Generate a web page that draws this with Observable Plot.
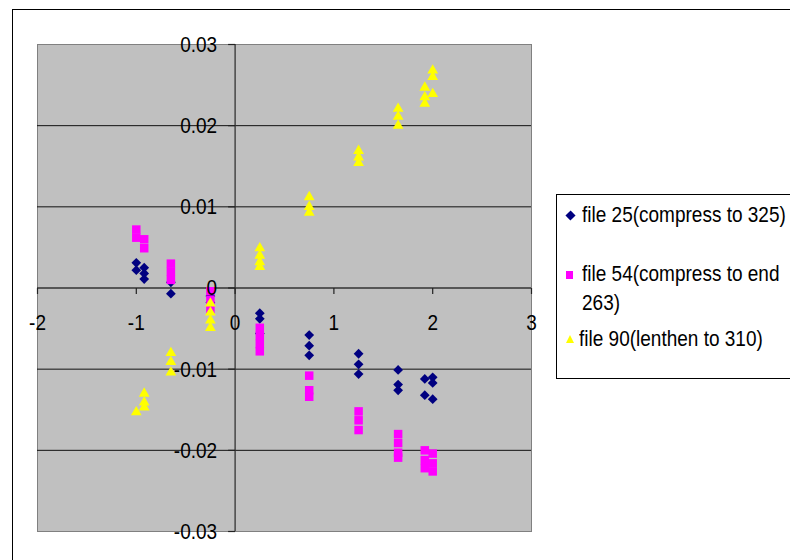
<!DOCTYPE html>
<html>
<head>
<meta charset="utf-8">
<script src="https://cdn.jsdelivr.net/npm/d3@7"></script>
<script src="https://cdn.jsdelivr.net/npm/@observablehq/plot@0.6"></script>
<style>
  body { margin: 0; background: #fff; overflow: hidden; font-family: "Liberation Sans", Arial, sans-serif; }
  #wrap { position: relative; width: 790px; height: 560px; overflow: hidden; }
  #chart { position: absolute; left: 0; top: 0; }
  #border { position: absolute; left: 12px; top: 9px; width: 900px; height: 700px; border-left: 1px solid #000; border-top: 1px solid #000; }
  #legend { position: absolute; left: 556px; top: 194px; width: 300px; height: 183px; border: 1px solid #000; background: #fff; }
  .line { position: absolute; height: 24px; line-height: 24px; font-size: 19px; color: #000; white-space: nowrap; transform: scaleY(1.2); }
  .mk { position: absolute; }
</style>
</head>
<body>
<div id="wrap">
  <div id="border"></div>
  <div id="chart"></div>
  <div id="legend"></div>
</div>
<script>
// ---- data ----
const xGroups = [-1, -0.92, -0.65, -0.25, 0.25, 0.75, 1.25, 1.65, 1.92, 2];
const file25 = [
  [0.0031, 0.0022],
  [0.0025, 0.0018, 0.0011],
  [0.0007, -0.0007],
  [-0.0010, -0.0018],
  [-0.0031, -0.0038, -0.0056],
  [-0.0058, -0.0071, -0.0083],
  [-0.0081, -0.0094, -0.0106],
  [-0.0101, -0.0119, -0.0126],
  [-0.0112, -0.0132],
  [-0.0110, -0.0117, -0.0137]
];
const file54 = [
  [0.0072, 0.0062],
  [0.0060, 0.0049],
  [0.0030, 0.0020, 0.0010],
  [-0.0004, -0.0015, -0.0026],
  [-0.0049, -0.0059, -0.0069, -0.0078],
  [-0.0108, -0.0126, -0.0134],
  [-0.0152, -0.0163, -0.0175],
  [-0.0180, -0.0191, -0.0203, -0.0209],
  [-0.0200, -0.0212, -0.0222],
  [-0.0204, -0.0216, -0.0226]
];
const file90 = [
  [-0.0153],
  [-0.0130, -0.0141, -0.0147],
  [-0.0080, -0.0091, -0.0104],
  [-0.0019, -0.0030, -0.0040, -0.0049],
  [0.0049, 0.0040, 0.0032, 0.0026],
  [0.0112, 0.0100, 0.0093],
  [0.0169, 0.0161, 0.0154],
  [0.0221, 0.0211, 0.0200],
  [0.0247, 0.0235, 0.0227],
  [0.0268, 0.0260, 0.0239]
];
const seriesNames = ["file 25(compress to 325)", "file 54(compress to end 263)", "file 90(lenthen to 310)"];
const seriesColors = ["#000080", "#ff00ff", "#ffff00"];
const xTicks = [-2, -1, 0, 1, 2, 3];
const xLabels = ["-2", "-1", "0", "1", "2", "3"];
const yTicks = [-0.03, -0.02, -0.01, 0, 0.01, 0.02, 0.03];
const yLabels = ["-0.03", "-0.02", "-0.01", "0", "0.01", "0.02", "0.03"];
const yGrid = [-0.02, -0.01, 0.01, 0.02];

// ---- build rows ----
function rows(groups) {
  const out = [];
  groups.forEach((ys, i) => ys.forEach(v => out.push({x: xGroups[i], y: v})));
  return out;
}
const rows25 = rows(file25), rows54 = rows(file54), rows90 = rows(file90);

const tickDown = { draw(ctx) { ctx.moveTo(0, 0); ctx.lineTo(0, 6); } };
const tickLeft = { draw(ctx) { ctx.moveTo(0, 0); ctx.lineTo(-7, 0); } };

const xt = xTicks.map((v, i) => ({v, label: xLabels[i]}));
const yt = yTicks.map((v, i) => ({v, label: yLabels[i]}));

const plot = Plot.plot({
  width: 790,
  height: 560,
  marginLeft: 37,
  marginRight: 259,
  marginTop: 44,
  marginBottom: 29,
  x: {domain: [-2, 3], axis: null},
  y: {domain: [-0.03, 0.03], axis: null},
  style: {fontFamily: "'Liberation Sans', Arial, sans-serif", fontSize: "19px", background: "transparent", overflow: "visible"},
  marks: [
    Plot.frame({fill: "#c0c0c0", stroke: "#808080"}),
    Plot.ruleY(yGrid, {stroke: "#111", strokeWidth: 1}),
    Plot.ruleY([0], {stroke: "#333", strokeWidth: 1.3}),
    Plot.ruleX([0], {stroke: "#333", strokeWidth: 1.3}),
    Plot.dot(xTicks, {x: d => d, y: 0, symbol: tickDown, stroke: "#222", fill: "none", strokeWidth: 1.2}),
    Plot.dot(yTicks, {x: 0, y: d => d, symbol: tickLeft, stroke: "#222", fill: "none", strokeWidth: 1.2}),
    Plot.dot(rows25, {x: "x", y: "y", symbol: "diamond2", r: 4.4, fill: seriesColors[0], stroke: "none"}),
    Plot.dot(rows54, {x: "x", y: "y", symbol: "square", r: 4.8, fill: seriesColors[1], stroke: "none"}),
    Plot.dot(rows90, {x: "x", y: "y", symbol: "triangle", r: 4.0, fill: seriesColors[2], stroke: "none"}),
    Plot.text(xt, {x: "v", y: 0, text: "label", dy: 35, fill: "#000", fontSize: 19, textAnchor: "middle"}),
    Plot.text(yt, {x: 0, y: "v", text: "label", dx: -18, fill: "#000", fontSize: 19, textAnchor: "end"})
  ]
});
document.getElementById("chart").appendChild(plot);

// stretch text vertically around its own centre to match the tall glyphs of the original
plot.querySelectorAll("text").forEach(t => {
  const b = t.getBBox();
  const cy = b.y + b.height / 2;
  const tr = t.getAttribute("transform") || "";
  t.setAttribute("transform", `${tr} translate(0,${cy}) scale(1,1.2) translate(0,${-cy})`);
});

// ---- legend ----
const wrap = document.getElementById("wrap");
function addLine(text, left, cy) {
  const d = document.createElement("div");
  d.className = "line";
  d.style.left = left + "px";
  d.style.top = (cy - 12) + "px";
  d.textContent = text;
  wrap.appendChild(d);
}
function addMarker(css) {
  const d = document.createElement("div");
  d.className = "mk";
  Object.assign(d.style, css);
  wrap.appendChild(d);
}
addMarker({left: "567px", top: "211.5px", width: "7px", height: "7px", background: seriesColors[0], transform: "rotate(45deg) scale(1,1.05)"});
addLine(seriesNames[0], 582, 215);
addMarker({left: "566px", top: "271px", width: "7px", height: "7.5px", background: seriesColors[1]});
addLine("file 54(compress to end", 582, 274);
addLine("263)", 582, 303);
addMarker({left: "566px", top: "335px", width: "0", height: "0", borderLeft: "4px solid transparent", borderRight: "4px solid transparent", borderBottom: "8.5px solid " + seriesColors[2]});
addLine(seriesNames[2], 579, 339);
</script>
</body>
</html>
